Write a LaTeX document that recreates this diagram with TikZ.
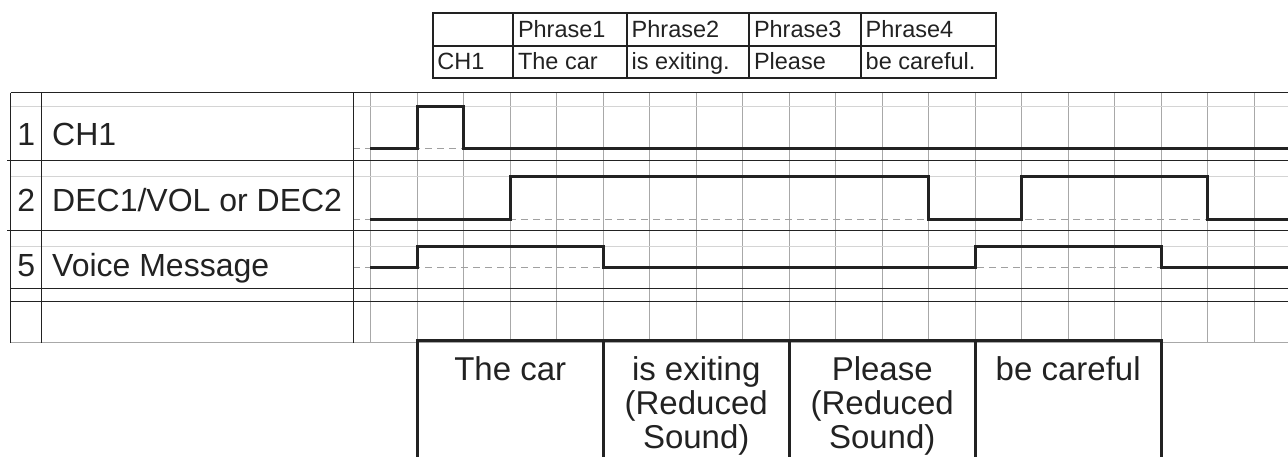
\documentclass[tikz,border=0pt]{standalone}
\usepackage{fontspec}
\setmainfont{Liberation Sans}
\definecolor{ink}{HTML}{222222}
\definecolor{gridc}{HTML}{A8A8A8}
\definecolor{lightc}{HTML}{D4D4D4}
\definecolor{dashc}{HTML}{A0A0A0}
\begin{document}
\begin{tikzpicture}[x=1pt,y=-1pt,
  big/.style={inner sep=0pt, font=\fontsize{32}{37}\selectfont, text=ink},
  bigb/.style={inner sep=0pt, font=\fontsize{33}{38}\selectfont, text=ink},
  small/.style={inner sep=0pt, font=\fontsize{23.5}{27}\selectfont, text=ink},
  sig/.style={line width=2.7pt, ink, line join=miter},
  gridv/.style={gridc, line width=0.9pt},
  gridh/.style={lightc, line width=1pt},
  dashline/.style={dashc, line width=1pt, dash pattern=on 7pt off 5pt},
  rule/.style={ink, line width=1pt},
  tabline/.style={ink, line width=2pt},
  boxline/.style={ink, line width=3pt}]
\useasboundingbox (0,0) rectangle (1288,457);

% ---------- top table ----------
\draw[tabline] (432.7,12.7) rectangle (996,77.7);
\draw[tabline] (432.7,45.7) -- (996,45.7);
\foreach \x in {513.3,627,749.3,861} \draw[tabline] (\x,12.7) -- (\x,77.7);
\node[small,anchor=base west] (h1) at (517.8,37.3) {Phrase1};
\node[small,anchor=base west] (h2) at (631.5,37.3) {Phrase2};
\node[small,anchor=base west] (h3) at (753.8,37.3) {Phrase3};
\node[small,anchor=base west] (h4) at (865.5,37.3) {Phrase4};
\node[small,anchor=base west] (c0) at (437.2,69.3) {CH1};
\node[small,anchor=base west] (c1) at (517.8,69.3) {The car};
\node[small,anchor=base west] (c2) at (631.5,69.3) {is exiting.};
\node[small,anchor=base west] (c3) at (753.8,69.3) {Please};
\node[small,anchor=base west] (c4) at (865.5,69.3) {be careful.};

% ---------- grid ----------
\foreach \k in {0,...,19} \draw[gridv] ({370.7+46.5*\k},92.7) -- ({370.7+46.5*\k},342.5);
\foreach \y in {106.3,176.7,246.7} \draw[gridh] (10.7,\y) -- (1288,\y);
\foreach \y in {148.3,219.3,267.3} \draw[dashline] (353.3,\y) -- (1288,\y);
\draw[gridc, line width=1.2pt] (10.7,342.5) -- (1288,342.5);
\draw[rule] (10.7,92.7) -- (1288,92.7);
\draw[rule] (7,161) -- (1288,161);
\draw[rule] (7,231) -- (1288,231);
\draw[rule] (10.7,288.3) -- (1288,288.3);
\draw[rule] (10.7,301) -- (1288,301);
\foreach \x in {10.7,41.7,353.3} \draw[rule] (\x,92.7) -- (\x,342.5);

% ---------- labels ----------
\node[big,anchor=base] (n1) at (26.2,145.7) {1};
\node[big,anchor=base] (n2) at (26.2,211.7) {2};
\node[big,anchor=base] (n5) at (26.2,276.7) {5};
\node[big,anchor=base west] (l1) at (52,145.7) {CH1};
\node[big,anchor=base west] (l2) at (52,211.7) {DEC1/VOL or DEC2};
\node[big,anchor=base west] (l5) at (52,276.7) {Voice Message};

% ---------- signals ----------
\draw[sig] (370,148.3) -- (417.2,148.3) -- (417.2,106.3) -- (463.7,106.3) -- (463.7,148.3) -- (1288,148.3);
\draw[sig] (370,219.3) -- (510.2,219.3) -- (510.2,176.7) -- (928.7,176.7) -- (928.7,219.3)
  -- (1021.7,219.3) -- (1021.7,176.7) -- (1207.7,176.7) -- (1207.7,219.3) -- (1288,219.3);
\draw[sig] (370,267.3) -- (417.2,267.3) -- (417.2,246.7) -- (603.2,246.7) -- (603.2,267.3)
  -- (975.2,267.3) -- (975.2,246.7) -- (1161.2,246.7) -- (1161.2,267.3) -- (1288,267.3);

% ---------- bottom boxes ----------
\draw[boxline] (417.2,457) -- (417.2,340.7) -- (1161.2,340.7) -- (1161.2,457);
\foreach \x in {603.2,789.2,975.2} \draw[boxline] (\x,340.7) -- (\x,457);
\node[bigb,anchor=base] (b1) at (510.2,380) {The car};
\node[bigb,anchor=base] (b2a) at (696.2,380) {is exiting};
\node[bigb,anchor=base] (b2b) at (696.2,414) {(Reduced};
\node[bigb,anchor=base] (b2c) at (696.2,448) {Sound)};
\node[bigb,anchor=base] (b3a) at (882.2,380) {Please};
\node[bigb,anchor=base] (b3b) at (882.2,414) {(Reduced};
\node[bigb,anchor=base] (b3c) at (882.2,448) {Sound)};
\node[bigb,anchor=base] (b4) at (1068.2,380) {be careful};
\end{tikzpicture}
\end{document}
